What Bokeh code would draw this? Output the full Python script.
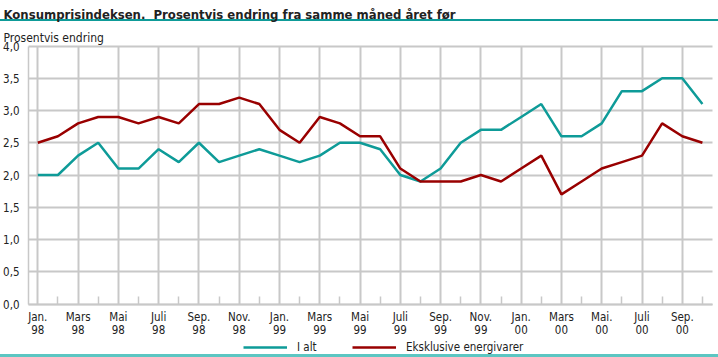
from bokeh.plotting import figure
from bokeh.models import FixedTicker, Legend, LegendItem, Range1d, Label
from bokeh.embed import file_html
from bokeh.resources import INLINE

tick_labels = ["Jan.\n98", "Mars\n98", "Mai\n98", "Juli\n98", "Sep.\n98", "Nov.\n98",
               "Jan.\n99", "Mars\n99", "Mai\n99", "Juli\n99", "Sep.\n99", "Nov.\n99",
               "Jan.\n00", "Mars\n00", "Mai.\n00", "Juli\n00", "Sep.\n00"]
month_index = list(range(34))
i_alt = [2.0, 2.0, 2.3, 2.5, 2.1, 2.1, 2.4, 2.2, 2.5, 2.2, 2.3, 2.4,
         2.3, 2.2, 2.3, 2.5, 2.5, 2.4, 2.0, 1.9, 2.1, 2.5, 2.7, 2.7,
         2.9, 3.1, 2.6, 2.6, 2.8, 3.3, 3.3, 3.5, 3.5, 3.1]
eksklusive = [2.5, 2.6, 2.8, 2.9, 2.9, 2.8, 2.9, 2.8, 3.1, 3.1, 3.2, 3.1,
              2.7, 2.5, 2.9, 2.8, 2.6, 2.6, 2.1, 1.9, 1.9, 1.9, 2.0, 1.9,
              2.1, 2.3, 1.7, 1.9, 2.1, 2.2, 2.3, 2.8, 2.6, 2.5]
y_ticks = [0.0, 0.5, 1.0, 1.5, 2.0, 2.5, 3.0, 3.5, 4.0]

FONT = "Liberation Sans Narrow, DejaVu Sans Condensed, Liberation Sans, sans-serif"
TEAL = "#0e9b98"
RULE2 = "#5cc6c2"
RED = "#990000"
GRID = "#c8c8c8"
TXT = "#222222"

W, H = 718, 357
PX_X = 20.14          # pixels per month
PX_Y = 64.5           # pixels per unit
X0, Y0 = 37.3, 303.5  # pixel of (Jan 98, 0.0)
x_lo, x_hi = -0.46, 33.5   # plotting area extent in months
bg = (f"linear-gradient(to bottom, white 0px, white 19px, {TEAL} 19px, {TEAL} 21px, "
      f"white 21px, white 354px, {RULE2} 354px, {RULE2} 357px)")
p = figure(width=W, height=H, output_backend="svg", toolbar_location=None,
           x_range=Range1d(-X0 / PX_X, (W - X0) / PX_X),
           y_range=Range1d(-(H - Y0) / PX_Y, Y0 / PX_Y),
           min_border=0, styles={"background": bg})
p.outline_line_color = None
p.background_fill_alpha = 0
p.border_fill_alpha = 0

major = [i * 2 for i in range(len(tick_labels))]
minor = [i * 2 + 1 for i in range(len(tick_labels))]
p.xaxis.ticker = FixedTicker(ticks=major, minor_ticks=minor)
p.xaxis.major_label_overrides = {m: lab for m, lab in zip(major, tick_labels)}
p.yaxis.ticker = FixedTicker(ticks=y_ticks)
p.yaxis.major_label_overrides = {v: f"{v:.1f}".replace(".", ",") for v in y_ticks}
p.xaxis.fixed_location = 0
p.yaxis.fixed_location = x_lo
p.xaxis.bounds = (x_lo, x_hi)
p.yaxis.bounds = (0, 4)

for ax in (p.xaxis, p.yaxis):
    ax.axis_line_color = GRID
    ax.axis_line_width = 1.5
    ax.major_tick_line_color = None
    ax.major_tick_in = 0
    ax.major_tick_out = 0
    ax.major_label_text_font = FONT
    ax.major_label_text_font_size = "11.5px"
    ax.major_label_text_color = TXT
p.xaxis.minor_tick_in = 8
p.xaxis.minor_tick_out = 0
p.xaxis.minor_tick_line_color = GRID
p.xaxis.minor_tick_line_width = 1.5
p.xaxis.major_label_standoff = 6
p.xaxis.major_label_text_line_height = 0.95
p.yaxis.minor_tick_line_color = None
p.yaxis.minor_tick_in = 0
p.yaxis.minor_tick_out = 0
p.yaxis.major_label_standoff = 9

p.xgrid.grid_line_color = GRID
p.xgrid.grid_line_width = 2
p.xgrid.cross_bounds = (0, 4)
p.ygrid.grid_line_color = GRID
p.ygrid.grid_line_width = 2
p.ygrid.cross_bounds = (x_lo, x_hi)

r1 = p.line(month_index, i_alt, line_color=TEAL, line_width=2.5)
r2 = p.line(month_index, eksklusive, line_color=RED, line_width=2.5)

# texts (screen units measured from the bottom-left corner of the plotting frame)
p.add_layout(Label(x=3, y=H - 14, x_units="screen", y_units="screen", text_baseline="alphabetic",
                   text="Konsumprisindeksen.\u00a0 Prosentvis endring fra samme måned året før",
                   text_font=FONT, text_font_size="13px", text_font_style="bold", text_color=TXT))
p.add_layout(Label(x=3, y=H - 37, x_units="screen", y_units="screen", text_baseline="alphabetic",
                   text="Prosentvis endring", text_font=FONT, text_font_size="12px", text_color=TXT))

lg = Legend(items=[LegendItem(label="I alt", renderers=[r1]),
                   LegendItem(label="Eksklusive energivarer", renderers=[r2])],
            location=(243, 3), orientation="horizontal",
            glyph_width=44, glyph_height=10, label_height=14, label_width=20,
            label_standoff=10, spacing=35,
            label_text_font=FONT, label_text_font_size="11.5px", label_text_color=TXT,
            border_line_color=None, background_fill_alpha=0, padding=0, margin=0)
p.add_layout(lg, "center")

open("out.html", "w").write(file_html(p, INLINE))
